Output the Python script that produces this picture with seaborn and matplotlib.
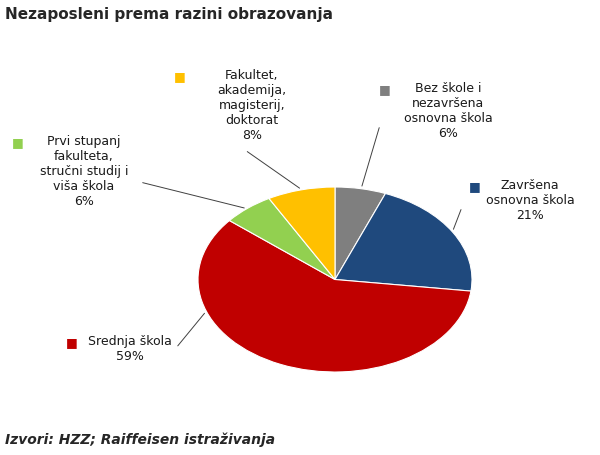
import matplotlib
matplotlib.use("Agg")
import matplotlib.pyplot as plt
import numpy as np
import seaborn as sns

sns.set_theme(style="white")
plt.rcParams['font.family'] = ['DejaVu Sans']

labels = ["Bez škole i\nnezavršena\nosnovna škola", "Završena\nosnovna škola", "Srednja škola",
          "Prvi stupanj\nfakulteta,\nstručni studij i\nviša škola", "Fakultet,\nakademija,\nmagisterij,\ndoktorat"]
shares = [6, 21, 59, 6, 8]
colors = ["#7f7f7f", "#1f497d", "#c00000", "#92d050", "#ffc000"]

W, H = 600, 455
fig = plt.figure(figsize=(6, 4.55), dpi=100)
ax = fig.add_axes([198 / W, 1 - 372 / H, 274 / W, 185 / H])
ax.pie(shares, colors=colors, startangle=90, counterclock=False,
       wedgeprops=dict(linewidth=0.8, edgecolor="white"))
ax.set_aspect("auto")
ax.set_xlim(-1, 1)
ax.set_ylim(-1, 1)

# text block positions (pixels): marker x, text center x, first line y
layout = [
    (385, 448, 90),
    (475, 530, 187),
    (72, 130, 343),
    (18, 84, 143),
    (180, 252, 77),
]
# leader: angle on pie edge, end point (pixels)
leaders = [(79, (380, 125)), (31, (462, 207)), (200, (176, 348)),
           (130, (140, 182)), (104, (245, 150))]

for lab, val, col, (mx, tx, ty), (ang, end) in zip(labels, shares, colors, layout, leaders):
    fig.text(mx / W, 1 - ty / H, "■", color=col, fontsize=9, ha="center", va="center")
    fig.text(tx / W, 1 - (ty - 8) / H, f"{lab}\n{val}%", fontsize=9, ha="center", va="top",
             multialignment="center", linespacing=1.2, color="#1a1a1a")
    a = np.deg2rad(ang)
    ax.annotate("", xy=(np.cos(a), np.sin(a)), xycoords="data",
                xytext=(end[0] / W, 1 - end[1] / H), textcoords="figure fraction",
                arrowprops=dict(arrowstyle="-", color="#404040", lw=0.7),
                annotation_clip=False)

fig.text(5 / W, 1 - 14 / H, "Nezaposleni prema razini obrazovanja", fontsize=11,
         fontweight="bold", va="center", ha="left")
fig.text(5 / W, 1 - 440 / H, "Izvori: HZZ; Raiffeisen istraživanja", fontsize=10,
         fontweight="bold", fontstyle="italic", va="center", ha="left")

fig.savefig("out.png", dpi=100)
